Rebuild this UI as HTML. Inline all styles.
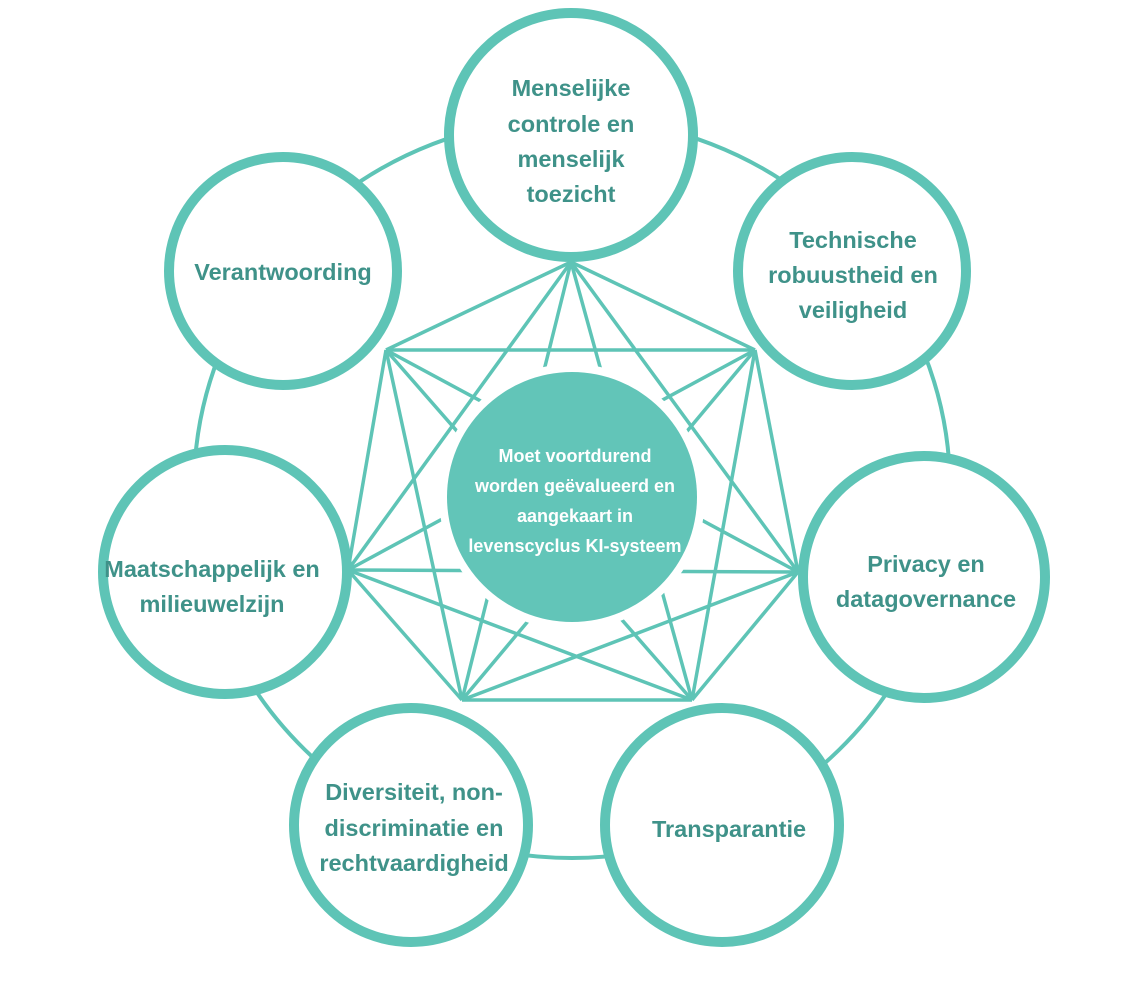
<!DOCTYPE html>
<html><head><meta charset="utf-8"><style>
html,body{margin:0;padding:0;background:#fff;width:1140px;height:984px;overflow:hidden}
svg{display:block}
text{font-family:"Liberation Sans Narrow","Liberation Sans",sans-serif;font-weight:bold;text-anchor:middle}
.t{fill:#3f9289;font-size:23.5px}
.c{fill:#fff;font-size:18px}
</style></head><body>
<svg width="1140" height="984" viewBox="0 0 1140 984">
<g fill="none" stroke="#5ec4b6">
<ellipse cx="572" cy="488" rx="378" ry="370" stroke-width="4"/>
<g stroke-width="3.5">
<line x1="571" y1="262" x2="386" y2="350"/>
<line x1="571" y1="262" x2="755" y2="350"/>
<line x1="571" y1="262" x2="348" y2="570"/>
<line x1="571" y1="262" x2="798" y2="572"/>
<line x1="571" y1="262" x2="462" y2="700"/>
<line x1="571" y1="262" x2="692" y2="700"/>
<line x1="386" y1="350" x2="755" y2="350"/>
<line x1="386" y1="350" x2="348" y2="570"/>
<line x1="386" y1="350" x2="798" y2="572"/>
<line x1="386" y1="350" x2="462" y2="700"/>
<line x1="386" y1="350" x2="692" y2="700"/>
<line x1="755" y1="350" x2="348" y2="570"/>
<line x1="755" y1="350" x2="798" y2="572"/>
<line x1="755" y1="350" x2="462" y2="700"/>
<line x1="755" y1="350" x2="692" y2="700"/>
<line x1="348" y1="570" x2="798" y2="572"/>
<line x1="348" y1="570" x2="462" y2="700"/>
<line x1="348" y1="570" x2="692" y2="700"/>
<line x1="798" y1="572" x2="462" y2="700"/>
<line x1="798" y1="572" x2="692" y2="700"/>
<line x1="462" y1="700" x2="692" y2="700"/>
</g>
</g>
<circle cx="572" cy="497" r="133" fill="#fff"/>
<circle cx="572" cy="497" r="125" fill="#62c5b8"/>
<g fill="#fff" stroke="#5ec4b6" stroke-width="10">
<circle cx="571" cy="135" r="122"/>
<circle cx="852" cy="271" r="114"/>
<circle cx="924" cy="577" r="121"/>
<circle cx="722" cy="825" r="117"/>
<circle cx="411" cy="825" r="117"/>
<circle cx="225" cy="572" r="122"/>
<circle cx="283" cy="271" r="114"/>
</g>
<text class="t" x="571" y="96">Menselijke</text>
<text class="t" x="571" y="132">controle en</text>
<text class="t" x="571" y="167">menselijk</text>
<text class="t" x="571" y="202">toezicht</text>
<text class="t" x="853" y="248">Technische</text>
<text class="t" x="853" y="283">robuustheid  en</text>
<text class="t" x="853" y="318">veiligheid</text>
<text class="t" x="283" y="280">Verantwoording</text>
<text class="t" x="926" y="572">Privacy en</text>
<text class="t" x="926" y="607">datagovernance</text>
<text class="t" x="212" y="577">Maatschappelijk en</text>
<text class="t" x="212" y="612">milieuwelzijn</text>
<text class="t" x="414" y="800">Diversiteit, non-</text>
<text class="t" x="414" y="836">discriminatie en</text>
<text class="t" x="414" y="871">rechtvaardigheid</text>
<text class="t" x="729" y="837">Transparantie</text>
<text class="c" x="575" y="462">Moet voortdurend</text>
<text class="c" x="575" y="492">worden geëvalueerd en</text>
<text class="c" x="575" y="522">aangekaart in</text>
<text class="c" x="575" y="552">levenscyclus KI-systeem</text>
</svg>
</body></html>
